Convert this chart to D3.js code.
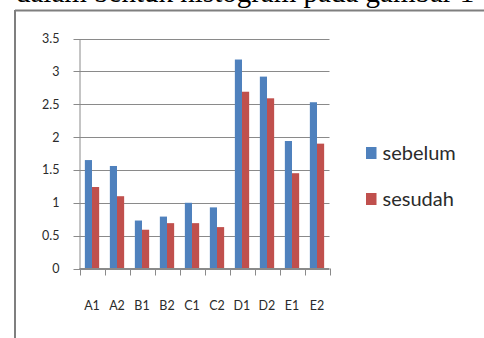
<!DOCTYPE html>
<html>
<head>
<meta charset="utf-8">
<script src="https://cdn.jsdelivr.net/npm/d3@7"></script>
<style>
  html, body { margin: 0; padding: 0; background: #fff; }
  svg { display: block; }
</style>
</head>
<body>
<svg id="chart" width="484" height="338"></svg>
<script>
// Nilai rata-rata per indikator, sebelum dan sesudah
const categories = ["A1", "A2", "B1", "B2", "C1", "C2", "D1", "D2", "E1", "E2"];
const sebelum = [1.65, 1.56, 0.73, 0.79, 1.0, 0.93, 3.18, 2.92, 1.94, 2.53];
const sesudah = [1.24, 1.1, 0.59, 0.69, 0.69, 0.63, 2.69, 2.59, 1.45, 1.9];
const seriesNames = ["sebelum", "sesudah"];
const seriesColors = ["#4F81BD", "#C0504D"];
const yTickValues = [0, 0.5, 1, 1.5, 2, 2.5, 3, 3.5];
const yTickLabels = ["0", "0.5", "1", "1.5", "2", "2.5", "3", "3.5"];
const caption = "dalam bentuk histogram pada gambar 1";

const svg = d3.select("#chart");
const labelFont = "Lato, 'Open Sans', sans-serif";
const textColor = "#2b2b2b";

// Caption line of the surrounding document text
svg.append("text")
  .attr("x", 16)
  .attr("y", 2)
  .attr("font-family", "'Liberation Serif', 'Times New Roman', serif")
  .attr("font-size", 29)
  .attr("fill", "#000")
  .text(caption);

// Chart frame (top and left edges)
svg.append("line")
  .attr("x1", 15).attr("x2", 484).attr("y1", 10.5).attr("y2", 10.5)
  .attr("stroke", "#7f7f7f").attr("stroke-width", 2);
svg.append("line")
  .attr("x1", 15).attr("x2", 15).attr("y1", 10).attr("y2", 338)
  .attr("stroke", "#7f7f7f").attr("stroke-width", 2);

const plot = { left: 79.5, right: 329.5, top: 38.5, bottom: 268.5 };

const x0 = d3.scaleBand()
  .domain(categories)
  .range([plot.left, plot.right])
  .padding(0);

const x1 = d3.scaleBand()
  .domain(seriesNames)
  .range([0, x0.bandwidth()])
  .paddingInner(0)
  .paddingOuter(0.75);

const y = d3.scaleLinear()
  .domain([0, 3.5])
  .range([plot.bottom, plot.top]);

const gridColor = "#8a8a8a";

// Horizontal gridlines
svg.append("g")
  .selectAll("line")
  .data(yTickValues)
  .join("line")
  .attr("x1", plot.left - 6)
  .attr("x2", plot.right)
  .attr("y1", d => Math.round(y(d)) + 0.5)
  .attr("y2", d => Math.round(y(d)) + 0.5)
  .attr("stroke", gridColor)
  .attr("stroke-width", 1);

// Y axis
const yAxis = d3.axisLeft(y)
  .tickValues(yTickValues)
  .tickFormat((d, i) => yTickLabels[i])
  .tickSize(0)
  .tickPadding(20);

const gy = svg.append("g")
  .attr("transform", `translate(${plot.left},0)`)
  .call(yAxis);
gy.select(".domain").attr("stroke", gridColor);
gy.selectAll("text")
  .attr("font-family", labelFont)
  .attr("font-size", 12.5)
  .attr("fill", textColor);

// Bars
const seriesValues = [sebelum, sesudah];
const groups = svg.append("g")
  .selectAll("g")
  .data(categories)
  .join("g")
  .attr("transform", d => `translate(${x0(d)},0)`);

groups.selectAll("rect")
  .data((c, i) => seriesNames.map((s, k) => ({ s, k, v: seriesValues[k][i] })))
  .join("rect")
  .attr("x", d => x1(d.s))
  .attr("width", x1.bandwidth())
  .attr("y", d => y(d.v))
  .attr("height", d => y(0) - y(d.v))
  .attr("fill", d => seriesColors[d.k]);

// X axis with tick marks at category boundaries
const gx = svg.append("g")
  .attr("transform", `translate(0,${plot.bottom})`);
gx.append("line")
  .attr("x1", plot.left).attr("x2", plot.right)
  .attr("stroke", gridColor);
const boundaries = categories.map(c => x0(c)).concat([plot.right]);
gx.selectAll("line.tick")
  .data(boundaries)
  .join("line")
  .attr("class", "tick")
  .attr("x1", d => Math.round(d) + 0.5)
  .attr("x2", d => Math.round(d) + 0.5)
  .attr("y1", 0)
  .attr("y2", 7)
  .attr("stroke", gridColor);
gx.selectAll("text")
  .data(categories)
  .join("text")
  .attr("x", d => x0(d) + x0.bandwidth() / 2)
  .attr("y", 41)
  .attr("text-anchor", "middle")
  .attr("font-family", labelFont)
  .attr("font-size", 12.5)
  .attr("fill", textColor)
  .text(d => d);

// Legend
const legend = svg.append("g");
const legendRows = [150, 196];
seriesNames.forEach((name, i) => {
  legend.append("rect")
    .attr("x", 366)
    .attr("y", legendRows[i] - 3)
    .attr("width", 10.5)
    .attr("height", 12)
    .attr("fill", seriesColors[i]);
  legend.append("text")
    .attr("x", 382.5)
    .attr("y", legendRows[i] + 10)
    .attr("font-family", labelFont)
    .attr("font-size", 20)
    .attr("fill", textColor)
    .text(name);
});
</script>
</body>
</html>
